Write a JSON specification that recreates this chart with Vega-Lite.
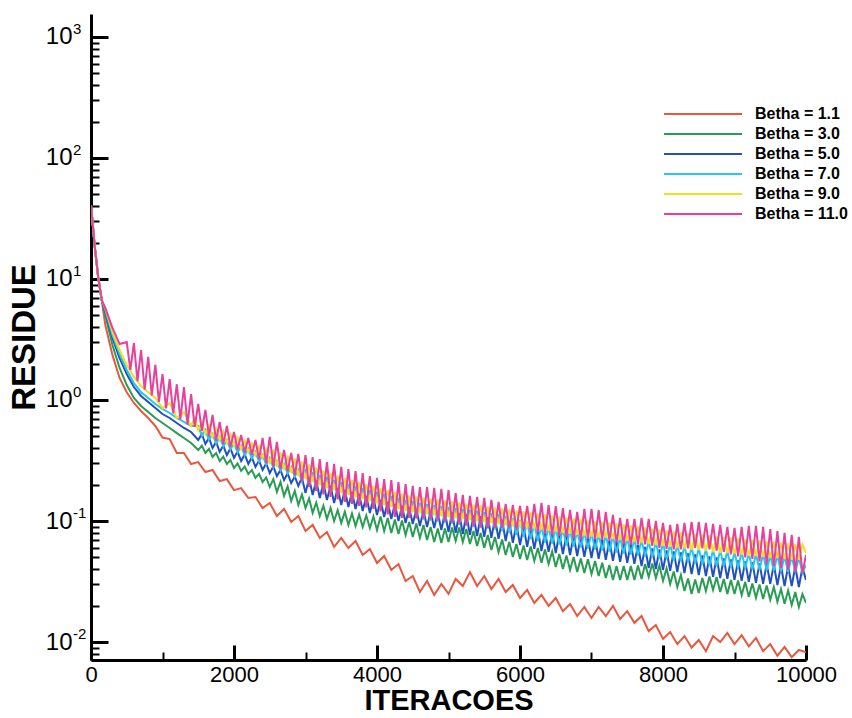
{
"$schema": "https://vega.github.io/schema/vega-lite/v6.json",
"width": 715, "height": 646,
"autosize": "none",
"padding": {"left": 91, "top": 14, "right": 46, "bottom": 58},
"background": "white",
"config": {"view": {"stroke": null}, "font": "Liberation Sans"},
"layer": [
{
"data": {"values": [
{"betha":"1.1","iter":0,"res":40.9},{"betha":"1.1","iter":25,"res":28},{"betha":"1.1","iter":50,"res":19.1},{"betha":"1.1","iter":100,"res":10.4},{"betha":"1.1","iter":150,"res":6.7},{"betha":"1.1","iter":200,"res":4.17},{"betha":"1.1","iter":300,"res":2.36},{"betha":"1.1","iter":400,"res":1.52},{"betha":"1.1","iter":500,"res":1.16},{"betha":"1.1","iter":600,"res":0.945},{"betha":"1.1","iter":700,"res":0.812},{"betha":"1.1","iter":800,"res":0.71},{"betha":"1.1","iter":900,"res":0.61},{"betha":"1.1","iter":1000,"res":0.49},{"betha":"1.1","iter":1100,"res":0.476},{"betha":"1.1","iter":1200,"res":0.365},{"betha":"1.1","iter":1300,"res":0.365},{"betha":"1.1","iter":1400,"res":0.296},{"betha":"1.1","iter":1500,"res":0.307},{"betha":"1.1","iter":1600,"res":0.254},{"betha":"1.1","iter":1700,"res":0.264},{"betha":"1.1","iter":1800,"res":0.214},{"betha":"1.1","iter":1900,"res":0.222},{"betha":"1.1","iter":2000,"res":0.18},{"betha":"1.1","iter":2100,"res":0.187},{"betha":"1.1","iter":2200,"res":0.155},{"betha":"1.1","iter":2300,"res":0.158},{"betha":"1.1","iter":2400,"res":0.128},{"betha":"1.1","iter":2500,"res":0.141},{"betha":"1.1","iter":2600,"res":0.11},{"betha":"1.1","iter":2700,"res":0.126},{"betha":"1.1","iter":2800,"res":0.098},{"betha":"1.1","iter":2900,"res":0.11},{"betha":"1.1","iter":3000,"res":0.0827},{"betha":"1.1","iter":3100,"res":0.0928},{"betha":"1.1","iter":3200,"res":0.0724},{"betha":"1.1","iter":3300,"res":0.0811},{"betha":"1.1","iter":3400,"res":0.061},{"betha":"1.1","iter":3500,"res":0.0724},{"betha":"1.1","iter":3600,"res":0.0598},{"betha":"1.1","iter":3700,"res":0.0684},{"betha":"1.1","iter":3800,"res":0.0524},{"betha":"1.1","iter":3900,"res":0.0587},{"betha":"1.1","iter":4000,"res":0.045},{"betha":"1.1","iter":4100,"res":0.0514},{"betha":"1.1","iter":4200,"res":0.0394},{"betha":"1.1","iter":4300,"res":0.0441},{"betha":"1.1","iter":4400,"res":0.0319},{"betha":"1.1","iter":4500,"res":0.0351},{"betha":"1.1","iter":4600,"res":0.0259},{"betha":"1.1","iter":4700,"res":0.0319},{"betha":"1.1","iter":4800,"res":0.0245},{"betha":"1.1","iter":4900,"res":0.0302},{"betha":"1.1","iter":5000,"res":0.025},{"betha":"1.1","iter":5100,"res":0.0332},{"betha":"1.1","iter":5200,"res":0.029},{"betha":"1.1","iter":5300,"res":0.0378},{"betha":"1.1","iter":5400,"res":0.029},{"betha":"1.1","iter":5500,"res":0.0351},{"betha":"1.1","iter":5600,"res":0.0274},{"betha":"1.1","iter":5700,"res":0.0332},{"betha":"1.1","iter":5800,"res":0.0259},{"betha":"1.1","iter":5900,"res":0.0296},{"betha":"1.1","iter":6000,"res":0.0231},{"betha":"1.1","iter":6100,"res":0.0269},{"betha":"1.1","iter":6200,"res":0.021},{"betha":"1.1","iter":6300,"res":0.0245},{"betha":"1.1","iter":6400,"res":0.0199},{"betha":"1.1","iter":6500,"res":0.0231},{"betha":"1.1","iter":6600,"res":0.018},{"betha":"1.1","iter":6700,"res":0.0206},{"betha":"1.1","iter":6800,"res":0.0164},{"betha":"1.1","iter":6900,"res":0.0195},{"betha":"1.1","iter":7000,"res":0.0158},{"betha":"1.1","iter":7100,"res":0.0195},{"betha":"1.1","iter":7200,"res":0.0164},{"betha":"1.1","iter":7300,"res":0.0199},{"betha":"1.1","iter":7400,"res":0.0155},{"betha":"1.1","iter":7500,"res":0.018},{"betha":"1.1","iter":7600,"res":0.0144},{"betha":"1.1","iter":7700,"res":0.0164},{"betha":"1.1","iter":7800,"res":0.0123},{"betha":"1.1","iter":7900,"res":0.0138},{"betha":"1.1","iter":8000,"res":0.0106},{"betha":"1.1","iter":8100,"res":0.0121},{"betha":"1.1","iter":8200,"res":0.0096},{"betha":"1.1","iter":8300,"res":0.0112},{"betha":"1.1","iter":8400,"res":0.009},{"betha":"1.1","iter":8500,"res":0.0104},{"betha":"1.1","iter":8600,"res":0.0084},{"betha":"1.1","iter":8700,"res":0.0112},{"betha":"1.1","iter":8800,"res":0.01},{"betha":"1.1","iter":8900,"res":0.0119},{"betha":"1.1","iter":9000,"res":0.0096},{"betha":"1.1","iter":9100,"res":0.0114},{"betha":"1.1","iter":9200,"res":0.0092},{"betha":"1.1","iter":9300,"res":0.0108},{"betha":"1.1","iter":9400,"res":0.0084},{"betha":"1.1","iter":9500,"res":0.0096},{"betha":"1.1","iter":9600,"res":0.0077},{"betha":"1.1","iter":9700,"res":0.0091},{"betha":"1.1","iter":9800,"res":0.0075},{"betha":"1.1","iter":9900,"res":0.0086},{"betha":"1.1","iter":10000,"res":0.0082},
{"betha":"3.0","iter":0,"res":40.9},{"betha":"3.0","iter":25,"res":28},{"betha":"3.0","iter":50,"res":19.1},{"betha":"3.0","iter":100,"res":10.4},{"betha":"3.0","iter":150,"res":6.7},{"betha":"3.0","iter":200,"res":5.04},{"betha":"3.0","iter":300,"res":2.85},{"betha":"3.0","iter":400,"res":1.84},{"betha":"3.0","iter":500,"res":1.33},{"betha":"3.0","iter":600,"res":1.04},{"betha":"3.0","iter":700,"res":0.892},{"betha":"3.0","iter":800,"res":0.796},{"betha":"3.0","iter":900,"res":0.71},{"betha":"3.0","iter":1000,"res":0.645},{"betha":"3.0","iter":1100,"res":0.587},{"betha":"3.0","iter":1200,"res":0.533},{"betha":"3.0","iter":1300,"res":0.485},{"betha":"3.0","iter":1400,"res":0.441},
{"betha":"3.0","iter":1500,"res":0.386},{"betha":"3.0","iter":1550,"res":0.42},{"betha":"3.0","iter":1600,"res":0.365},{"betha":"3.0","iter":1650,"res":0.394},{"betha":"3.0","iter":1700,"res":0.338},{"betha":"3.0","iter":1750,"res":0.365},{"betha":"3.0","iter":1800,"res":0.313},{"betha":"3.0","iter":1850,"res":0.341},{"betha":"3.0","iter":1900,"res":0.296},{"betha":"3.0","iter":1950,"res":0.319},{"betha":"3.0","iter":2000,"res":0.274},{"betha":"3.0","iter":2050,"res":0.299},{"betha":"3.0","iter":2100,"res":0.259},{"betha":"3.0","iter":2150,"res":0.282},{"betha":"3.0","iter":2200,"res":0.245},{"betha":"3.0","iter":2250,"res":0.264},{"betha":"3.0","iter":2300,"res":0.227},{"betha":"3.0","iter":2350,"res":0.245},{"betha":"3.0","iter":2400,"res":0.21},{"betha":"3.0","iter":2450,"res":0.229},{"betha":"3.0","iter":2500,"res":0.191},{"betha":"3.0","iter":2550,"res":0.222},{"betha":"3.0","iter":2600,"res":0.174},{"betha":"3.0","iter":2650,"res":0.21},{"betha":"3.0","iter":2700,"res":0.161},{"betha":"3.0","iter":2750,"res":0.193},{"betha":"3.0","iter":2800,"res":0.146},{"betha":"3.0","iter":2850,"res":0.177},{"betha":"3.0","iter":2900,"res":0.1356},{"betha":"3.0","iter":2950,"res":0.166},{"betha":"3.0","iter":3000,"res":0.128},{"betha":"3.0","iter":3050,"res":0.154},{"betha":"3.0","iter":3100,"res":0.1165},{"betha":"3.0","iter":3150,"res":0.142},{"betha":"3.0","iter":3200,"res":0.11},{"betha":"3.0","iter":3250,"res":0.134},{"betha":"3.0","iter":3300,"res":0.104},{"betha":"3.0","iter":3350,"res":0.128},{"betha":"3.0","iter":3400,"res":0.1},{"betha":"3.0","iter":3450,"res":0.123},{"betha":"3.0","iter":3500,"res":0.0964},{"betha":"3.0","iter":3550,"res":0.119},{"betha":"3.0","iter":3600,"res":0.0927},{"betha":"3.0","iter":3650,"res":0.1154},{"betha":"3.0","iter":3700,"res":0.091},{"betha":"3.0","iter":3750,"res":0.113},{"betha":"3.0","iter":3800,"res":0.0893},{"betha":"3.0","iter":3850,"res":0.111},{"betha":"3.0","iter":3900,"res":0.0876},{"betha":"3.0","iter":3950,"res":0.109},{"betha":"3.0","iter":4000,"res":0.0843},{"betha":"3.0","iter":4050,"res":0.109},{"betha":"3.0","iter":4100,"res":0.0827},{"betha":"3.0","iter":4150,"res":0.106},{"betha":"3.0","iter":4200,"res":0.0797},{"betha":"3.0","iter":4250,"res":0.103},{"betha":"3.0","iter":4300,"res":0.0781},{"betha":"3.0","iter":4350,"res":0.101},{"betha":"3.0","iter":4400,"res":0.0767},{"betha":"3.0","iter":4450,"res":0.0982},{"betha":"3.0","iter":4500,"res":0.0739},{"betha":"3.0","iter":4550,"res":0.0955},{"betha":"3.0","iter":4600,"res":0.0725},{"betha":"3.0","iter":4650,"res":0.0927},{"betha":"3.0","iter":4700,"res":0.0697},{"betha":"3.0","iter":4750,"res":0.0893},{"betha":"3.0","iter":4800,"res":0.0671},{"betha":"3.0","iter":4850,"res":0.0868},{"betha":"3.0","iter":4900,"res":0.0659},{"betha":"3.0","iter":4950,"res":0.0868},{"betha":"3.0","iter":5000,"res":0.0671},{"betha":"3.0","iter":5050,"res":0.0884},{"betha":"3.0","iter":5100,"res":0.0684},{"betha":"3.0","iter":5150,"res":0.0884},{"betha":"3.0","iter":5200,"res":0.0671},{"betha":"3.0","iter":5250,"res":0.0859},{"betha":"3.0","iter":5300,"res":0.0646},{"betha":"3.0","iter":5350,"res":0.0827},{"betha":"3.0","iter":5400,"res":0.0622},{"betha":"3.0","iter":5450,"res":0.0797},{"betha":"3.0","iter":5500,"res":0.0599},{"betha":"3.0","iter":5550,"res":0.0767},{"betha":"3.0","iter":5600,"res":0.0576},{"betha":"3.0","iter":5650,"res":0.0739},{"betha":"3.0","iter":5700,"res":0.0555},{"betha":"3.0","iter":5750,"res":0.0704},{"betha":"3.0","iter":5800,"res":0.0524},{"betha":"3.0","iter":5850,"res":0.0671},{"betha":"3.0","iter":5900,"res":0.0505},{"betha":"3.0","iter":5950,"res":0.0646},{"betha":"3.0","iter":6000,"res":0.0486},{"betha":"3.0","iter":6050,"res":0.0628},{"betha":"3.0","iter":6100,"res":0.0477},{"betha":"3.0","iter":6150,"res":0.0616},{"betha":"3.0","iter":6200,"res":0.0468},{"betha":"3.0","iter":6250,"res":0.0599},{"betha":"3.0","iter":6300,"res":0.0451},{"betha":"3.0","iter":6350,"res":0.0582},{"betha":"3.0","iter":6400,"res":0.0442},{"betha":"3.0","iter":6450,"res":0.056},{"betha":"3.0","iter":6500,"res":0.0417},{"betha":"3.0","iter":6550,"res":0.0534},{"betha":"3.0","iter":6600,"res":0.0401},{"betha":"3.0","iter":6650,"res":0.0519},{"betha":"3.0","iter":6700,"res":0.0394},{"betha":"3.0","iter":6750,"res":0.0505},{"betha":"3.0","iter":6800,"res":0.0379},{"betha":"3.0","iter":6850,"res":0.049},{"betha":"3.0","iter":6900,"res":0.0372},{"betha":"3.0","iter":6950,"res":0.0482},{"betha":"3.0","iter":7000,"res":0.0365},{"betha":"3.0","iter":7050,"res":0.0468},{"betha":"3.0","iter":7100,"res":0.0351},{"betha":"3.0","iter":7150,"res":0.0451},{"betha":"3.0","iter":7200,"res":0.0338},{"betha":"3.0","iter":7250,"res":0.0433},{"betha":"3.0","iter":7300,"res":0.0326},{"betha":"3.0","iter":7350,"res":0.0425},{"betha":"3.0","iter":7400,"res":0.0326},{"betha":"3.0","iter":7450,"res":0.0425},{"betha":"3.0","iter":7500,"res":0.0326},{"betha":"3.0","iter":7550,"res":0.0425},{"betha":"3.0","iter":7600,"res":0.0326},{"betha":"3.0","iter":7650,"res":0.0429},{"betha":"3.0","iter":7700,"res":0.0332},{"betha":"3.0","iter":7750,"res":0.0442},{"betha":"3.0","iter":7800,"res":0.0345},{"betha":"3.0","iter":7850,"res":0.0446},{"betha":"3.0","iter":7900,"res":0.0338},{"betha":"3.0","iter":7950,"res":0.0429},{"betha":"3.0","iter":8000,"res":0.032},{"betha":"3.0","iter":8050,"res":0.0405},{"betha":"3.0","iter":8100,"res":0.0302},{"betha":"3.0","iter":8150,"res":0.0383},{"betha":"3.0","iter":8200,"res":0.0285},{"betha":"3.0","iter":8250,"res":0.0358},{"betha":"3.0","iter":8300,"res":0.0264},{"betha":"3.0","iter":8350,"res":0.0335},{"betha":"3.0","iter":8400,"res":0.0249},{"betha":"3.0","iter":8450,"res":0.0329},{"betha":"3.0","iter":8500,"res":0.0254},{"betha":"3.0","iter":8550,"res":0.0338},{"betha":"3.0","iter":8600,"res":0.0264},{"betha":"3.0","iter":8650,"res":0.0348},{"betha":"3.0","iter":8700,"res":0.0269},{"betha":"3.0","iter":8750,"res":0.0345},{"betha":"3.0","iter":8800,"res":0.0259},{"betha":"3.0","iter":8850,"res":0.0332},{"betha":"3.0","iter":8900,"res":0.0249},{"betha":"3.0","iter":8950,"res":0.0326},{"betha":"3.0","iter":9000,"res":0.0249},{"betha":"3.0","iter":9050,"res":0.0323},{"betha":"3.0","iter":9100,"res":0.0245},{"betha":"3.0","iter":9150,"res":0.0314},{"betha":"3.0","iter":9200,"res":0.0236},{"betha":"3.0","iter":9250,"res":0.0305},{"betha":"3.0","iter":9300,"res":0.0232},{"betha":"3.0","iter":9350,"res":0.0299},{"betha":"3.0","iter":9400,"res":0.0227},{"betha":"3.0","iter":9450,"res":0.0293},{"betha":"3.0","iter":9500,"res":0.0223},{"betha":"3.0","iter":9550,"res":0.0285},{"betha":"3.0","iter":9600,"res":0.0215},{"betha":"3.0","iter":9650,"res":0.0274},{"betha":"3.0","iter":9700,"res":0.0207},{"betha":"3.0","iter":9750,"res":0.0266},{"betha":"3.0","iter":9800,"res":0.0202},{"betha":"3.0","iter":9850,"res":0.0259},{"betha":"3.0","iter":9900,"res":0.0195},{"betha":"3.0","iter":9950,"res":0.0249},{"betha":"3.0","iter":10000,"res":0.0211},
{"betha":"5.0","iter":0,"res":40.9},{"betha":"5.0","iter":25,"res":28},{"betha":"5.0","iter":50,"res":19.1},{"betha":"5.0","iter":100,"res":10.4},{"betha":"5.0","iter":150,"res":6.7},{"betha":"5.0","iter":200,"res":5.33},{"betha":"5.0","iter":300,"res":3.26},{"betha":"5.0","iter":400,"res":2.22},{"betha":"5.0","iter":500,"res":1.64},{"betha":"5.0","iter":600,"res":1.28},{"betha":"5.0","iter":700,"res":1.08},{"betha":"5.0","iter":800,"res":0.963},{"betha":"5.0","iter":900,"res":0.859},{"betha":"5.0","iter":1000,"res":0.766},{"betha":"5.0","iter":1100,"res":0.71},{"betha":"5.0","iter":1200,"res":0.645},{"betha":"5.0","iter":1300,"res":0.587},{"betha":"5.0","iter":1400,"res":0.544},
{"betha":"5.0","iter":1500,"res":0.467},{"betha":"5.0","iter":1550,"res":0.524},{"betha":"5.0","iter":1600,"res":0.433},{"betha":"5.0","iter":1650,"res":0.486},{"betha":"5.0","iter":1700,"res":0.401},{"betha":"5.0","iter":1750,"res":0.45},{"betha":"5.0","iter":1800,"res":0.372},{"betha":"5.0","iter":1850,"res":0.42},{"betha":"5.0","iter":1900,"res":0.351},{"betha":"5.0","iter":1950,"res":0.398},{"betha":"5.0","iter":2000,"res":0.332},{"betha":"5.0","iter":2050,"res":0.375},{"betha":"5.0","iter":2100,"res":0.313},{"betha":"5.0","iter":2150,"res":0.355},{"betha":"5.0","iter":2200,"res":0.296},{"betha":"5.0","iter":2250,"res":0.335},{"betha":"5.0","iter":2300,"res":0.28},{"betha":"5.0","iter":2350,"res":0.316},{"betha":"5.0","iter":2400,"res":0.264},{"betha":"5.0","iter":2450,"res":0.299},{"betha":"5.0","iter":2500,"res":0.249},{"betha":"5.0","iter":2550,"res":0.282},{"betha":"5.0","iter":2600,"res":0.235},{"betha":"5.0","iter":2650,"res":0.264},{"betha":"5.0","iter":2700,"res":0.218},{"betha":"5.0","iter":2750,"res":0.247},{"betha":"5.0","iter":2800,"res":0.206},{"betha":"5.0","iter":2850,"res":0.233},{"betha":"5.0","iter":2900,"res":0.195},{"betha":"5.0","iter":2950,"res":0.229},{"betha":"5.0","iter":3000,"res":0.17},{"betha":"5.0","iter":3050,"res":0.227},{"betha":"5.0","iter":3100,"res":0.164},{"betha":"5.0","iter":3150,"res":0.216},{"betha":"5.0","iter":3200,"res":0.155},{"betha":"5.0","iter":3250,"res":0.206},{"betha":"5.0","iter":3300,"res":0.149},{"betha":"5.0","iter":3350,"res":0.196},{"betha":"5.0","iter":3400,"res":0.141},{"betha":"5.0","iter":3450,"res":0.1875},{"betha":"5.0","iter":3500,"res":0.1356},{"betha":"5.0","iter":3550,"res":0.1804},{"betha":"5.0","iter":3600,"res":0.1306},{"betha":"5.0","iter":3650,"res":0.1737},{"betha":"5.0","iter":3700,"res":0.1257},{"betha":"5.0","iter":3750,"res":0.1672},{"betha":"5.0","iter":3800,"res":0.121},{"betha":"5.0","iter":3850,"res":0.161},{"betha":"5.0","iter":3900,"res":0.1165},{"betha":"5.0","iter":3950,"res":0.155},{"betha":"5.0","iter":4000,"res":0.1121},{"betha":"5.0","iter":4050,"res":0.1492},{"betha":"5.0","iter":4100,"res":0.108},{"betha":"5.0","iter":4150,"res":0.1437},{"betha":"5.0","iter":4200,"res":0.1039},{"betha":"5.0","iter":4250,"res":0.1383},{"betha":"5.0","iter":4300,"res":0.1},{"betha":"5.0","iter":4350,"res":0.133},{"betha":"5.0","iter":4400,"res":0.0964},{"betha":"5.0","iter":4450,"res":0.1294},{"betha":"5.0","iter":4500,"res":0.0946},{"betha":"5.0","iter":4550,"res":0.1257},{"betha":"5.0","iter":4600,"res":0.091},{"betha":"5.0","iter":4650,"res":0.122},{"betha":"5.0","iter":4700,"res":0.0893},{"betha":"5.0","iter":4750,"res":0.12},{"betha":"5.0","iter":4800,"res":0.0876},{"betha":"5.0","iter":4850,"res":0.1176},{"betha":"5.0","iter":4900,"res":0.0843},{"betha":"5.0","iter":4950,"res":0.1176},{"betha":"5.0","iter":5000,"res":0.0812},{"betha":"5.0","iter":5050,"res":0.1176},{"betha":"5.0","iter":5100,"res":0.0797},{"betha":"5.0","iter":5150,"res":0.1154},{"betha":"5.0","iter":5200,"res":0.0781},{"betha":"5.0","iter":5250,"res":0.1132},{"betha":"5.0","iter":5300,"res":0.0767},{"betha":"5.0","iter":5350,"res":0.111},{"betha":"5.0","iter":5400,"res":0.0752},{"betha":"5.0","iter":5450,"res":0.109},{"betha":"5.0","iter":5500,"res":0.0739},{"betha":"5.0","iter":5550,"res":0.107},{"betha":"5.0","iter":5600,"res":0.0725},{"betha":"5.0","iter":5650,"res":0.105},{"betha":"5.0","iter":5700,"res":0.0711},{"betha":"5.0","iter":5750,"res":0.102},{"betha":"5.0","iter":5800,"res":0.0684},{"betha":"5.0","iter":5850,"res":0.0982},{"betha":"5.0","iter":5900,"res":0.0659},{"betha":"5.0","iter":5950,"res":0.0946},{"betha":"5.0","iter":6000,"res":0.0634},{"betha":"5.0","iter":6050,"res":0.091},{"betha":"5.0","iter":6100,"res":0.0611},{"betha":"5.0","iter":6150,"res":0.0876},{"betha":"5.0","iter":6200,"res":0.0588},{"betha":"5.0","iter":6250,"res":0.0843},{"betha":"5.0","iter":6300,"res":0.0565},{"betha":"5.0","iter":6350,"res":0.0819},{"betha":"5.0","iter":6400,"res":0.0555},{"betha":"5.0","iter":6450,"res":0.0804},{"betha":"5.0","iter":6500,"res":0.0544},{"betha":"5.0","iter":6550,"res":0.0789},{"betha":"5.0","iter":6600,"res":0.0534},{"betha":"5.0","iter":6650,"res":0.0775},{"betha":"5.0","iter":6700,"res":0.0524},{"betha":"5.0","iter":6750,"res":0.0759},{"betha":"5.0","iter":6800,"res":0.0514},{"betha":"5.0","iter":6850,"res":0.0746},{"betha":"5.0","iter":6900,"res":0.0505},{"betha":"5.0","iter":6950,"res":0.0732},{"betha":"5.0","iter":7000,"res":0.0495},{"betha":"5.0","iter":7050,"res":0.0718},{"betha":"5.0","iter":7100,"res":0.0486},{"betha":"5.0","iter":7150,"res":0.0704},{"betha":"5.0","iter":7200,"res":0.0477},{"betha":"5.0","iter":7250,"res":0.069},{"betha":"5.0","iter":7300,"res":0.0468},{"betha":"5.0","iter":7350,"res":0.0677},{"betha":"5.0","iter":7400,"res":0.0459},{"betha":"5.0","iter":7450,"res":0.0665},{"betha":"5.0","iter":7500,"res":0.0451},{"betha":"5.0","iter":7550,"res":0.0652},{"betha":"5.0","iter":7600,"res":0.0442},{"betha":"5.0","iter":7650,"res":0.0634},{"betha":"5.0","iter":7700,"res":0.0425},{"betha":"5.0","iter":7750,"res":0.0611},{"betha":"5.0","iter":7800,"res":0.0409},{"betha":"5.0","iter":7850,"res":0.0593},{"betha":"5.0","iter":7900,"res":0.0401},{"betha":"5.0","iter":7950,"res":0.0582},{"betha":"5.0","iter":8000,"res":0.0394},{"betha":"5.0","iter":8050,"res":0.057},{"betha":"5.0","iter":8100,"res":0.0387},{"betha":"5.0","iter":8150,"res":0.056},{"betha":"5.0","iter":8200,"res":0.0379},{"betha":"5.0","iter":8250,"res":0.055},{"betha":"5.0","iter":8300,"res":0.0372},{"betha":"5.0","iter":8350,"res":0.0539},{"betha":"5.0","iter":8400,"res":0.0365},{"betha":"5.0","iter":8450,"res":0.0529},{"betha":"5.0","iter":8500,"res":0.0358},{"betha":"5.0","iter":8550,"res":0.0519},{"betha":"5.0","iter":8600,"res":0.0351},{"betha":"5.0","iter":8650,"res":0.0509},{"betha":"5.0","iter":8700,"res":0.0345},{"betha":"5.0","iter":8750,"res":0.05},{"betha":"5.0","iter":8800,"res":0.0338},{"betha":"5.0","iter":8850,"res":0.049},{"betha":"5.0","iter":8900,"res":0.0332},{"betha":"5.0","iter":8950,"res":0.0482},{"betha":"5.0","iter":9000,"res":0.0326},{"betha":"5.0","iter":9050,"res":0.0472},{"betha":"5.0","iter":9100,"res":0.032},{"betha":"5.0","iter":9150,"res":0.0464},{"betha":"5.0","iter":9200,"res":0.0314},{"betha":"5.0","iter":9250,"res":0.0455},{"betha":"5.0","iter":9300,"res":0.0308},{"betha":"5.0","iter":9350,"res":0.0446},{"betha":"5.0","iter":9400,"res":0.0302},{"betha":"5.0","iter":9450,"res":0.0442},{"betha":"5.0","iter":9500,"res":0.0302},{"betha":"5.0","iter":9550,"res":0.0437},{"betha":"5.0","iter":9600,"res":0.0296},{"betha":"5.0","iter":9650,"res":0.0429},{"betha":"5.0","iter":9700,"res":0.029},{"betha":"5.0","iter":9750,"res":0.0425},{"betha":"5.0","iter":9800,"res":0.029},{"betha":"5.0","iter":9850,"res":0.0421},{"betha":"5.0","iter":9900,"res":0.0285},{"betha":"5.0","iter":9950,"res":0.0413},{"betha":"5.0","iter":10000,"res":0.0326},
{"betha":"7.0","iter":0,"res":40.9},{"betha":"7.0","iter":25,"res":28},{"betha":"7.0","iter":50,"res":19.1},{"betha":"7.0","iter":100,"res":10.4},{"betha":"7.0","iter":150,"res":6.7},{"betha":"7.0","iter":200,"res":5.54},{"betha":"7.0","iter":300,"res":3.45},{"betha":"7.0","iter":400,"res":2.4},{"betha":"7.0","iter":500,"res":1.77},{"betha":"7.0","iter":600,"res":1.38},{"betha":"7.0","iter":700,"res":1.16},{"betha":"7.0","iter":800,"res":1.04},{"betha":"7.0","iter":900,"res":0.927},{"betha":"7.0","iter":1000,"res":0.843},{"betha":"7.0","iter":1100,"res":0.781},{"betha":"7.0","iter":1200,"res":0.71},{"betha":"7.0","iter":1300,"res":0.658},{"betha":"7.0","iter":1400,"res":0.61},
{"betha":"7.0","iter":1500,"res":0.61},{"betha":"7.0","iter":1550,"res":0.504},{"betha":"7.0","iter":1600,"res":0.565},{"betha":"7.0","iter":1650,"res":0.467},{"betha":"7.0","iter":1700,"res":0.524},{"betha":"7.0","iter":1750,"res":0.437},{"betha":"7.0","iter":1800,"res":0.495},{"betha":"7.0","iter":1850,"res":0.413},{"betha":"7.0","iter":1900,"res":0.467},{"betha":"7.0","iter":1950,"res":0.39},{"betha":"7.0","iter":2000,"res":0.441},{"betha":"7.0","iter":2050,"res":0.368},{"betha":"7.0","iter":2100,"res":0.417},{"betha":"7.0","iter":2150,"res":0.348},{"betha":"7.0","iter":2200,"res":0.394},{"betha":"7.0","iter":2250,"res":0.329},{"betha":"7.0","iter":2300,"res":0.372},{"betha":"7.0","iter":2350,"res":0.31},{"betha":"7.0","iter":2400,"res":0.351},{"betha":"7.0","iter":2450,"res":0.293},{"betha":"7.0","iter":2500,"res":0.332},{"betha":"7.0","iter":2550,"res":0.277},{"betha":"7.0","iter":2600,"res":0.313},{"betha":"7.0","iter":2650,"res":0.261},{"betha":"7.0","iter":2700,"res":0.296},{"betha":"7.0","iter":2750,"res":0.247},{"betha":"7.0","iter":2800,"res":0.28},{"betha":"7.0","iter":2850,"res":0.233},{"betha":"7.0","iter":2900,"res":0.264},{"betha":"7.0","iter":2950,"res":0.212},{"betha":"7.0","iter":3000,"res":0.269},{"betha":"7.0","iter":3050,"res":0.193},{"betha":"7.0","iter":3100,"res":0.254},{"betha":"7.0","iter":3150,"res":0.182},{"betha":"7.0","iter":3200,"res":0.24},{"betha":"7.0","iter":3250,"res":0.1737},{"betha":"7.0","iter":3300,"res":0.2312},{"betha":"7.0","iter":3350,"res":0.166},{"betha":"7.0","iter":3400,"res":0.218},{"betha":"7.0","iter":3450,"res":0.158},{"betha":"7.0","iter":3500,"res":0.21},{"betha":"7.0","iter":3550,"res":0.152},{"betha":"7.0","iter":3600,"res":0.202},{"betha":"7.0","iter":3650,"res":0.1464},{"betha":"7.0","iter":3700,"res":0.195},{"betha":"7.0","iter":3750,"res":0.141},{"betha":"7.0","iter":3800,"res":0.1875},{"betha":"7.0","iter":3850,"res":0.1356},{"betha":"7.0","iter":3900,"res":0.1804},{"betha":"7.0","iter":3950,"res":0.1306},{"betha":"7.0","iter":4000,"res":0.1737},{"betha":"7.0","iter":4050,"res":0.1257},{"betha":"7.0","iter":4100,"res":0.1672},{"betha":"7.0","iter":4150,"res":0.121},{"betha":"7.0","iter":4200,"res":0.161},{"betha":"7.0","iter":4250,"res":0.1165},{"betha":"7.0","iter":4300,"res":0.155},{"betha":"7.0","iter":4350,"res":0.1121},{"betha":"7.0","iter":4400,"res":0.1492},{"betha":"7.0","iter":4450,"res":0.109},{"betha":"7.0","iter":4500,"res":0.1464},{"betha":"7.0","iter":4550,"res":0.106},{"betha":"7.0","iter":4600,"res":0.141},{"betha":"7.0","iter":4650,"res":0.103},{"betha":"7.0","iter":4700,"res":0.1383},{"betha":"7.0","iter":4750,"res":0.101},{"betha":"7.0","iter":4800,"res":0.1356},{"betha":"7.0","iter":4850,"res":0.0991},{"betha":"7.0","iter":4900,"res":0.133},{"betha":"7.0","iter":4950,"res":0.0973},{"betha":"7.0","iter":5000,"res":0.1306},{"betha":"7.0","iter":5050,"res":0.0955},{"betha":"7.0","iter":5100,"res":0.128},{"betha":"7.0","iter":5150,"res":0.0937},{"betha":"7.0","iter":5200,"res":0.1257},{"betha":"7.0","iter":5250,"res":0.0918},{"betha":"7.0","iter":5300,"res":0.1233},{"betha":"7.0","iter":5350,"res":0.0901},{"betha":"7.0","iter":5400,"res":0.121},{"betha":"7.0","iter":5450,"res":0.0884},{"betha":"7.0","iter":5500,"res":0.1187},{"betha":"7.0","iter":5550,"res":0.0868},{"betha":"7.0","iter":5600,"res":0.1165},{"betha":"7.0","iter":5650,"res":0.0851},{"betha":"7.0","iter":5700,"res":0.1143},{"betha":"7.0","iter":5750,"res":0.0827},{"betha":"7.0","iter":5800,"res":0.11},{"betha":"7.0","iter":5850,"res":0.0797},{"betha":"7.0","iter":5900,"res":0.106},{"betha":"7.0","iter":5950,"res":0.0767},{"betha":"7.0","iter":6000,"res":0.102},{"betha":"7.0","iter":6050,"res":0.0739},{"betha":"7.0","iter":6100,"res":0.0982},{"betha":"7.0","iter":6150,"res":0.0711},{"betha":"7.0","iter":6200,"res":0.0946},{"betha":"7.0","iter":6250,"res":0.0684},{"betha":"7.0","iter":6300,"res":0.091},{"betha":"7.0","iter":6350,"res":0.0665},{"betha":"7.0","iter":6400,"res":0.0893},{"betha":"7.0","iter":6450,"res":0.0652},{"betha":"7.0","iter":6500,"res":0.0876},{"betha":"7.0","iter":6550,"res":0.064},{"betha":"7.0","iter":6600,"res":0.0859},{"betha":"7.0","iter":6650,"res":0.0628},{"betha":"7.0","iter":6700,"res":0.0843},{"betha":"7.0","iter":6750,"res":0.0616},{"betha":"7.0","iter":6800,"res":0.0827},{"betha":"7.0","iter":6850,"res":0.0605},{"betha":"7.0","iter":6900,"res":0.0812},{"betha":"7.0","iter":6950,"res":0.0593},{"betha":"7.0","iter":7000,"res":0.0797},{"betha":"7.0","iter":7050,"res":0.0582},{"betha":"7.0","iter":7100,"res":0.0781},{"betha":"7.0","iter":7150,"res":0.057},{"betha":"7.0","iter":7200,"res":0.0767},{"betha":"7.0","iter":7250,"res":0.056},{"betha":"7.0","iter":7300,"res":0.0752},{"betha":"7.0","iter":7350,"res":0.055},{"betha":"7.0","iter":7400,"res":0.0739},{"betha":"7.0","iter":7450,"res":0.0539},{"betha":"7.0","iter":7500,"res":0.0725},{"betha":"7.0","iter":7550,"res":0.0529},{"betha":"7.0","iter":7600,"res":0.0711},{"betha":"7.0","iter":7650,"res":0.0519},{"betha":"7.0","iter":7700,"res":0.0697},{"betha":"7.0","iter":7750,"res":0.0509},{"betha":"7.0","iter":7800,"res":0.0684},{"betha":"7.0","iter":7850,"res":0.05},{"betha":"7.0","iter":7900,"res":0.0671},{"betha":"7.0","iter":7950,"res":0.049},{"betha":"7.0","iter":8000,"res":0.0659},{"betha":"7.0","iter":8050,"res":0.0482},{"betha":"7.0","iter":8100,"res":0.0646},{"betha":"7.0","iter":8150,"res":0.0472},{"betha":"7.0","iter":8200,"res":0.0634},{"betha":"7.0","iter":8250,"res":0.0464},{"betha":"7.0","iter":8300,"res":0.0622},{"betha":"7.0","iter":8350,"res":0.0455},{"betha":"7.0","iter":8400,"res":0.0611},{"betha":"7.0","iter":8450,"res":0.0446},{"betha":"7.0","iter":8500,"res":0.0599},{"betha":"7.0","iter":8550,"res":0.0437},{"betha":"7.0","iter":8600,"res":0.0588},{"betha":"7.0","iter":8650,"res":0.0429},{"betha":"7.0","iter":8700,"res":0.0576},{"betha":"7.0","iter":8750,"res":0.0425},{"betha":"7.0","iter":8800,"res":0.0576},{"betha":"7.0","iter":8850,"res":0.0421},{"betha":"7.0","iter":8900,"res":0.0565},{"betha":"7.0","iter":8950,"res":0.0413},{"betha":"7.0","iter":9000,"res":0.0555},{"betha":"7.0","iter":9050,"res":0.0409},{"betha":"7.0","iter":9100,"res":0.0555},{"betha":"7.0","iter":9150,"res":0.0405},{"betha":"7.0","iter":9200,"res":0.0544},{"betha":"7.0","iter":9250,"res":0.0398},{"betha":"7.0","iter":9300,"res":0.0534},{"betha":"7.0","iter":9350,"res":0.0394},{"betha":"7.0","iter":9400,"res":0.0534},{"betha":"7.0","iter":9450,"res":0.039},{"betha":"7.0","iter":9500,"res":0.0524},{"betha":"7.0","iter":9550,"res":0.0387},{"betha":"7.0","iter":9600,"res":0.0524},{"betha":"7.0","iter":9650,"res":0.0383},{"betha":"7.0","iter":9700,"res":0.0514},{"betha":"7.0","iter":9750,"res":0.0379},{"betha":"7.0","iter":9800,"res":0.0514},{"betha":"7.0","iter":9850,"res":0.0376},{"betha":"7.0","iter":9900,"res":0.0505},{"betha":"7.0","iter":9950,"res":0.0372},{"betha":"7.0","iter":10000,"res":0.0433},
{"betha":"9.0","iter":0,"res":40.9},{"betha":"9.0","iter":25,"res":28},{"betha":"9.0","iter":50,"res":19.1},{"betha":"9.0","iter":100,"res":10.4},{"betha":"9.0","iter":150,"res":6.7},{"betha":"9.0","iter":200,"res":5.76},{"betha":"9.0","iter":300,"res":3.65},{"betha":"9.0","iter":400,"res":2.59},{"betha":"9.0","iter":500,"res":1.95},{"betha":"9.0","iter":600,"res":1.55},{"betha":"9.0","iter":700,"res":1.31},{"betha":"9.0","iter":800,"res":1.16},{"betha":"9.0","iter":900,"res":1.04},{"betha":"9.0","iter":1000,"res":0.859},{"betha":"9.0","iter":1100,"res":0.945},{"betha":"9.0","iter":1200,"res":0.71},{"betha":"9.0","iter":1300,"res":0.796},{"betha":"9.0","iter":1400,"res":0.61},
{"betha":"9.0","iter":1450,"res":0.711},{"betha":"9.0","iter":1500,"res":0.565},{"betha":"9.0","iter":1550,"res":0.659},{"betha":"9.0","iter":1600,"res":0.524},{"betha":"9.0","iter":1650,"res":0.616},{"betha":"9.0","iter":1700,"res":0.495},{"betha":"9.0","iter":1750,"res":0.582},{"betha":"9.0","iter":1800,"res":0.467},{"betha":"9.0","iter":1850,"res":0.549},{"betha":"9.0","iter":1900,"res":0.441},{"betha":"9.0","iter":1950,"res":0.519},{"betha":"9.0","iter":2000,"res":0.417},{"betha":"9.0","iter":2050,"res":0.49},{"betha":"9.0","iter":2100,"res":0.394},{"betha":"9.0","iter":2150,"res":0.462},{"betha":"9.0","iter":2200,"res":0.372},{"betha":"9.0","iter":2250,"res":0.437},{"betha":"9.0","iter":2300,"res":0.351},{"betha":"9.0","iter":2350,"res":0.413},{"betha":"9.0","iter":2400,"res":0.332},{"betha":"9.0","iter":2450,"res":0.39},{"betha":"9.0","iter":2500,"res":0.296},{"betha":"9.0","iter":2550,"res":0.39},{"betha":"9.0","iter":2600,"res":0.28},{"betha":"9.0","iter":2650,"res":0.368},{"betha":"9.0","iter":2700,"res":0.264},{"betha":"9.0","iter":2750,"res":0.348},{"betha":"9.0","iter":2800,"res":0.249},{"betha":"9.0","iter":2850,"res":0.329},{"betha":"9.0","iter":2900,"res":0.235},{"betha":"9.0","iter":2950,"res":0.31},{"betha":"9.0","iter":3000,"res":0.222},{"betha":"9.0","iter":3050,"res":0.293},{"betha":"9.0","iter":3100,"res":0.21},{"betha":"9.0","iter":3150,"res":0.277},{"betha":"9.0","iter":3200,"res":0.1984},{"betha":"9.0","iter":3250,"res":0.261},{"betha":"9.0","iter":3300,"res":0.1875},{"betha":"9.0","iter":3350,"res":0.249},{"betha":"9.0","iter":3400,"res":0.1804},{"betha":"9.0","iter":3450,"res":0.238},{"betha":"9.0","iter":3500,"res":0.17},{"betha":"9.0","iter":3550,"res":0.227},{"betha":"9.0","iter":3600,"res":0.1641},{"betha":"9.0","iter":3650,"res":0.2182},{"betha":"9.0","iter":3700,"res":0.158},{"betha":"9.0","iter":3750,"res":0.21},{"betha":"9.0","iter":3800,"res":0.152},{"betha":"9.0","iter":3850,"res":0.2023},{"betha":"9.0","iter":3900,"res":0.1464},{"betha":"9.0","iter":3950,"res":0.195},{"betha":"9.0","iter":4000,"res":0.141},{"betha":"9.0","iter":4050,"res":0.1875},{"betha":"9.0","iter":4100,"res":0.1356},{"betha":"9.0","iter":4150,"res":0.1804},{"betha":"9.0","iter":4200,"res":0.1306},{"betha":"9.0","iter":4250,"res":0.1737},{"betha":"9.0","iter":4300,"res":0.1257},{"betha":"9.0","iter":4350,"res":0.1672},{"betha":"9.0","iter":4400,"res":0.121},{"betha":"9.0","iter":4450,"res":0.1625},{"betha":"9.0","iter":4500,"res":0.1187},{"betha":"9.0","iter":4550,"res":0.1595},{"betha":"9.0","iter":4600,"res":0.1165},{"betha":"9.0","iter":4650,"res":0.1565},{"betha":"9.0","iter":4700,"res":0.1143},{"betha":"9.0","iter":4750,"res":0.1536},{"betha":"9.0","iter":4800,"res":0.1121},{"betha":"9.0","iter":4850,"res":0.1507},{"betha":"9.0","iter":4900,"res":0.11},{"betha":"9.0","iter":4950,"res":0.1477},{"betha":"9.0","iter":5000,"res":0.108},{"betha":"9.0","iter":5050,"res":0.145},{"betha":"9.0","iter":5100,"res":0.106},{"betha":"9.0","iter":5150,"res":0.1423},{"betha":"9.0","iter":5200,"res":0.1039},{"betha":"9.0","iter":5250,"res":0.1397},{"betha":"9.0","iter":5300,"res":0.102},{"betha":"9.0","iter":5350,"res":0.137},{"betha":"9.0","iter":5400,"res":0.1},{"betha":"9.0","iter":5450,"res":0.1343},{"betha":"9.0","iter":5500,"res":0.0982},{"betha":"9.0","iter":5550,"res":0.1318},{"betha":"9.0","iter":5600,"res":0.0964},{"betha":"9.0","iter":5650,"res":0.1294},{"betha":"9.0","iter":5700,"res":0.0946},{"betha":"9.0","iter":5750,"res":0.1269},{"betha":"9.0","iter":5800,"res":0.0927},{"betha":"9.0","iter":5850,"res":0.1245},{"betha":"9.0","iter":5900,"res":0.091},{"betha":"9.0","iter":5950,"res":0.122},{"betha":"9.0","iter":6000,"res":0.0893},{"betha":"9.0","iter":6050,"res":0.12},{"betha":"9.0","iter":6100,"res":0.0876},{"betha":"9.0","iter":6150,"res":0.1176},{"betha":"9.0","iter":6200,"res":0.0859},{"betha":"9.0","iter":6250,"res":0.1154},{"betha":"9.0","iter":6300,"res":0.0843},{"betha":"9.0","iter":6350,"res":0.1132},{"betha":"9.0","iter":6400,"res":0.0827},{"betha":"9.0","iter":6450,"res":0.111},{"betha":"9.0","iter":6500,"res":0.0812},{"betha":"9.0","iter":6550,"res":0.109},{"betha":"9.0","iter":6600,"res":0.0797},{"betha":"9.0","iter":6650,"res":0.107},{"betha":"9.0","iter":6700,"res":0.0781},{"betha":"9.0","iter":6750,"res":0.105},{"betha":"9.0","iter":6800,"res":0.0767},{"betha":"9.0","iter":6850,"res":0.103},{"betha":"9.0","iter":6900,"res":0.0752},{"betha":"9.0","iter":6950,"res":0.101},{"betha":"9.0","iter":7000,"res":0.0739},{"betha":"9.0","iter":7050,"res":0.0991},{"betha":"9.0","iter":7100,"res":0.0725},{"betha":"9.0","iter":7150,"res":0.0982},{"betha":"9.0","iter":7200,"res":0.0725},{"betha":"9.0","iter":7250,"res":0.0973},{"betha":"9.0","iter":7300,"res":0.0711},{"betha":"9.0","iter":7350,"res":0.0955},{"betha":"9.0","iter":7400,"res":0.0697},{"betha":"9.0","iter":7450,"res":0.0937},{"betha":"9.0","iter":7500,"res":0.0684},{"betha":"9.0","iter":7550,"res":0.0918},{"betha":"9.0","iter":7600,"res":0.0671},{"betha":"9.0","iter":7650,"res":0.0901},{"betha":"9.0","iter":7700,"res":0.0659},{"betha":"9.0","iter":7750,"res":0.0884},{"betha":"9.0","iter":7800,"res":0.0646},{"betha":"9.0","iter":7850,"res":0.0868},{"betha":"9.0","iter":7900,"res":0.0634},{"betha":"9.0","iter":7950,"res":0.0851},{"betha":"9.0","iter":8000,"res":0.0622},{"betha":"9.0","iter":8050,"res":0.0835},{"betha":"9.0","iter":8100,"res":0.0611},{"betha":"9.0","iter":8150,"res":0.0819},{"betha":"9.0","iter":8200,"res":0.0599},{"betha":"9.0","iter":8250,"res":0.0804},{"betha":"9.0","iter":8300,"res":0.0588},{"betha":"9.0","iter":8350,"res":0.0789},{"betha":"9.0","iter":8400,"res":0.0576},{"betha":"9.0","iter":8450,"res":0.0781},{"betha":"9.0","iter":8500,"res":0.0576},{"betha":"9.0","iter":8550,"res":0.0775},{"betha":"9.0","iter":8600,"res":0.0565},{"betha":"9.0","iter":8650,"res":0.0759},{"betha":"9.0","iter":8700,"res":0.0555},{"betha":"9.0","iter":8750,"res":0.0746},{"betha":"9.0","iter":8800,"res":0.0544},{"betha":"9.0","iter":8850,"res":0.0739},{"betha":"9.0","iter":8900,"res":0.0544},{"betha":"9.0","iter":8950,"res":0.0732},{"betha":"9.0","iter":9000,"res":0.0534},{"betha":"9.0","iter":9050,"res":0.0718},{"betha":"9.0","iter":9100,"res":0.0524},{"betha":"9.0","iter":9150,"res":0.0704},{"betha":"9.0","iter":9200,"res":0.0514},{"betha":"9.0","iter":9250,"res":0.0697},{"betha":"9.0","iter":9300,"res":0.0514},{"betha":"9.0","iter":9350,"res":0.069},{"betha":"9.0","iter":9400,"res":0.0505},{"betha":"9.0","iter":9450,"res":0.0677},{"betha":"9.0","iter":9500,"res":0.0495},{"betha":"9.0","iter":9550,"res":0.0671},{"betha":"9.0","iter":9600,"res":0.0495},{"betha":"9.0","iter":9650,"res":0.0665},{"betha":"9.0","iter":9700,"res":0.0486},{"betha":"9.0","iter":9750,"res":0.0652},{"betha":"9.0","iter":9800,"res":0.0477},{"betha":"9.0","iter":9850,"res":0.0646},{"betha":"9.0","iter":9900,"res":0.0477},{"betha":"9.0","iter":9950,"res":0.064},{"betha":"9.0","iter":10000,"res":0.0544},
{"betha":"11.0","iter":0,"res":40.9},{"betha":"11.0","iter":25,"res":28},{"betha":"11.0","iter":50,"res":19.1},{"betha":"11.0","iter":100,"res":10.4},{"betha":"11.0","iter":150,"res":6.7},{"betha":"11.0","iter":200,"res":5.76},{"betha":"11.0","iter":300,"res":3.94},{"betha":"11.0","iter":400,"res":2.9},
{"betha":"11.0","iter":500,"res":3.01},{"betha":"11.0","iter":550,"res":1.77},{"betha":"11.0","iter":600,"res":2.96},{"betha":"11.0","iter":650,"res":1.43},{"betha":"11.0","iter":700,"res":2.59},{"betha":"11.0","iter":750,"res":1.22},{"betha":"11.0","iter":800,"res":2.27},{"betha":"11.0","iter":850,"res":1.09},{"betha":"11.0","iter":900,"res":1.95},{"betha":"11.0","iter":950,"res":0.963},{"betha":"11.0","iter":1000,"res":1.64},{"betha":"11.0","iter":1050,"res":0.851},{"betha":"11.0","iter":1100,"res":1.49},{"betha":"11.0","iter":1150,"res":0.774},{"betha":"11.0","iter":1200,"res":1.35},{"betha":"11.0","iter":1250,"res":0.691},{"betha":"11.0","iter":1300,"res":1.28},{"betha":"11.0","iter":1350,"res":0.628},{"betha":"11.0","iter":1400,"res":1.12},{"betha":"11.0","iter":1450,"res":0.599},{"betha":"11.0","iter":1500,"res":0.927},{"betha":"11.0","iter":1550,"res":0.554},{"betha":"11.0","iter":1600,"res":0.827},{"betha":"11.0","iter":1650,"res":0.5},{"betha":"11.0","iter":1700,"res":0.752},{"betha":"11.0","iter":1750,"res":0.462},{"betha":"11.0","iter":1800,"res":0.659},{"betha":"11.0","iter":1850,"res":0.433},{"betha":"11.0","iter":1900,"res":0.61},{"betha":"11.0","iter":1950,"res":0.409},{"betha":"11.0","iter":2000,"res":0.544},{"betha":"11.0","iter":2050,"res":0.39},{"betha":"11.0","iter":2100,"res":0.514},{"betha":"11.0","iter":2150,"res":0.368},{"betha":"11.0","iter":2200,"res":0.486},{"betha":"11.0","iter":2250,"res":0.351},{"betha":"11.0","iter":2300,"res":0.467},{"betha":"11.0","iter":2350,"res":0.325},{"betha":"11.0","iter":2400,"res":0.486},{"betha":"11.0","iter":2450,"res":0.299},{"betha":"11.0","iter":2500,"res":0.495},{"betha":"11.0","iter":2550,"res":0.282},{"betha":"11.0","iter":2600,"res":0.45},{"betha":"11.0","iter":2650,"res":0.269},{"betha":"11.0","iter":2700,"res":0.386},{"betha":"11.0","iter":2750,"res":0.257},{"betha":"11.0","iter":2800,"res":0.365},{"betha":"11.0","iter":2850,"res":0.238},{"betha":"11.0","iter":2900,"res":0.358},{"betha":"11.0","iter":2950,"res":0.212},{"betha":"11.0","iter":3000,"res":0.351},{"betha":"11.0","iter":3050,"res":0.191},{"betha":"11.0","iter":3100,"res":0.338},{"betha":"11.0","iter":3150,"res":0.177},{"betha":"11.0","iter":3200,"res":0.325},{"betha":"11.0","iter":3250,"res":0.166},{"betha":"11.0","iter":3300,"res":0.307},{"betha":"11.0","iter":3350,"res":0.158},{"betha":"11.0","iter":3400,"res":0.296},{"betha":"11.0","iter":3450,"res":0.151},{"betha":"11.0","iter":3500,"res":0.28},{"betha":"11.0","iter":3550,"res":0.1437},{"betha":"11.0","iter":3600,"res":0.269},{"betha":"11.0","iter":3650,"res":0.1383},{"betha":"11.0","iter":3700,"res":0.259},{"betha":"11.0","iter":3750,"res":0.133},{"betha":"11.0","iter":3800,"res":0.249},{"betha":"11.0","iter":3850,"res":0.1294},{"betha":"11.0","iter":3900,"res":0.235},{"betha":"11.0","iter":3950,"res":0.1257},{"betha":"11.0","iter":4000,"res":0.227},{"betha":"11.0","iter":4050,"res":0.12},{"betha":"11.0","iter":4100,"res":0.222},{"betha":"11.0","iter":4150,"res":0.1132},{"betha":"11.0","iter":4200,"res":0.218},{"betha":"11.0","iter":4250,"res":0.108},{"betha":"11.0","iter":4300,"res":0.21},{"betha":"11.0","iter":4350,"res":0.106},{"betha":"11.0","iter":4400,"res":0.202},{"betha":"11.0","iter":4450,"res":0.106},{"betha":"11.0","iter":4500,"res":0.195},{"betha":"11.0","iter":4550,"res":0.105},{"betha":"11.0","iter":4600,"res":0.191},{"betha":"11.0","iter":4650,"res":0.1039},{"betha":"11.0","iter":4700,"res":0.191},{"betha":"11.0","iter":4750,"res":0.103},{"betha":"11.0","iter":4800,"res":0.1875},{"betha":"11.0","iter":4850,"res":0.101},{"betha":"11.0","iter":4900,"res":0.184},{"betha":"11.0","iter":4950,"res":0.0991},{"betha":"11.0","iter":5000,"res":0.1804},{"betha":"11.0","iter":5050,"res":0.0973},{"betha":"11.0","iter":5100,"res":0.17},{"betha":"11.0","iter":5150,"res":0.0946},{"betha":"11.0","iter":5200,"res":0.1641},{"betha":"11.0","iter":5250,"res":0.0918},{"betha":"11.0","iter":5300,"res":0.161},{"betha":"11.0","iter":5350,"res":0.0901},{"betha":"11.0","iter":5400,"res":0.158},{"betha":"11.0","iter":5450,"res":0.0884},{"betha":"11.0","iter":5500,"res":0.155},{"betha":"11.0","iter":5550,"res":0.0876},{"betha":"11.0","iter":5600,"res":0.1492},{"betha":"11.0","iter":5650,"res":0.0876},{"betha":"11.0","iter":5700,"res":0.1437},{"betha":"11.0","iter":5750,"res":0.0876},{"betha":"11.0","iter":5800,"res":0.1383},{"betha":"11.0","iter":5850,"res":0.0868},{"betha":"11.0","iter":5900,"res":0.1356},{"betha":"11.0","iter":5950,"res":0.0851},{"betha":"11.0","iter":6000,"res":0.133},{"betha":"11.0","iter":6050,"res":0.0843},{"betha":"11.0","iter":6100,"res":0.133},{"betha":"11.0","iter":6150,"res":0.0827},{"betha":"11.0","iter":6200,"res":0.1383},{"betha":"11.0","iter":6250,"res":0.0804},{"betha":"11.0","iter":6300,"res":0.141},{"betha":"11.0","iter":6350,"res":0.0781},{"betha":"11.0","iter":6400,"res":0.1356},{"betha":"11.0","iter":6450,"res":0.0759},{"betha":"11.0","iter":6500,"res":0.133},{"betha":"11.0","iter":6550,"res":0.0752},{"betha":"11.0","iter":6600,"res":0.128},{"betha":"11.0","iter":6650,"res":0.0739},{"betha":"11.0","iter":6700,"res":0.1233},{"betha":"11.0","iter":6750,"res":0.0711},{"betha":"11.0","iter":6800,"res":0.1187},{"betha":"11.0","iter":6850,"res":0.0704},{"betha":"11.0","iter":6900,"res":0.1257},{"betha":"11.0","iter":6950,"res":0.0711},{"betha":"11.0","iter":7000,"res":0.1257},{"betha":"11.0","iter":7050,"res":0.0704},{"betha":"11.0","iter":7100,"res":0.1233},{"betha":"11.0","iter":7150,"res":0.0697},{"betha":"11.0","iter":7200,"res":0.1187},{"betha":"11.0","iter":7250,"res":0.069},{"betha":"11.0","iter":7300,"res":0.1121},{"betha":"11.0","iter":7350,"res":0.0665},{"betha":"11.0","iter":7400,"res":0.106},{"betha":"11.0","iter":7450,"res":0.064},{"betha":"11.0","iter":7500,"res":0.1039},{"betha":"11.0","iter":7550,"res":0.0634},{"betha":"11.0","iter":7600,"res":0.1039},{"betha":"11.0","iter":7650,"res":0.064},{"betha":"11.0","iter":7700,"res":0.106},{"betha":"11.0","iter":7750,"res":0.064},{"betha":"11.0","iter":7800,"res":0.1039},{"betha":"11.0","iter":7850,"res":0.0622},{"betha":"11.0","iter":7900,"res":0.1},{"betha":"11.0","iter":7950,"res":0.0599},{"betha":"11.0","iter":8000,"res":0.0964},{"betha":"11.0","iter":8050,"res":0.0588},{"betha":"11.0","iter":8100,"res":0.0927},{"betha":"11.0","iter":8150,"res":0.0582},{"betha":"11.0","iter":8200,"res":0.0946},{"betha":"11.0","iter":8250,"res":0.0582},{"betha":"11.0","iter":8300,"res":0.0964},{"betha":"11.0","iter":8350,"res":0.0593},{"betha":"11.0","iter":8400,"res":0.0982},{"betha":"11.0","iter":8450,"res":0.0599},{"betha":"11.0","iter":8500,"res":0.0982},{"betha":"11.0","iter":8550,"res":0.0593},{"betha":"11.0","iter":8600,"res":0.0964},{"betha":"11.0","iter":8650,"res":0.0582},{"betha":"11.0","iter":8700,"res":0.0946},{"betha":"11.0","iter":8750,"res":0.057},{"betha":"11.0","iter":8800,"res":0.0927},{"betha":"11.0","iter":8850,"res":0.0555},{"betha":"11.0","iter":8900,"res":0.0893},{"betha":"11.0","iter":8950,"res":0.0529},{"betha":"11.0","iter":9000,"res":0.0876},{"betha":"11.0","iter":9050,"res":0.0509},{"betha":"11.0","iter":9100,"res":0.0893},{"betha":"11.0","iter":9150,"res":0.05},{"betha":"11.0","iter":9200,"res":0.091},{"betha":"11.0","iter":9250,"res":0.0486},{"betha":"11.0","iter":9300,"res":0.091},{"betha":"11.0","iter":9350,"res":0.0464},{"betha":"11.0","iter":9400,"res":0.0893},{"betha":"11.0","iter":9450,"res":0.0442},{"betha":"11.0","iter":9500,"res":0.0859},{"betha":"11.0","iter":9550,"res":0.0425},{"betha":"11.0","iter":9600,"res":0.0827},{"betha":"11.0","iter":9650,"res":0.0409},{"betha":"11.0","iter":9700,"res":0.0797},{"betha":"11.0","iter":9750,"res":0.0394},{"betha":"11.0","iter":9800,"res":0.0767},{"betha":"11.0","iter":9850,"res":0.0379},{"betha":"11.0","iter":9900,"res":0.0739},{"betha":"11.0","iter":9950,"res":0.0372},{"betha":"11.0","iter":10000,"res":0.0524}
]},
"mark": {"type": "line", "strokeWidth": 2, "clip": true},
"encoding": {
  "x": {"field": "iter", "type": "quantitative", "title": "ITERACOES",
    "scale": {"domain": [0, 10000], "nice": false},
    "axis": {"values": [0,500,1000,1500,2000,2500,3000,3500,4000,4500,5000,5500,6000,6500,7000,7500,8000,8500,9000,9500,10000],
      "labelExpr": "datum.value % 2000 == 0 ? '' + datum.value : ''",
      "grid": false, "labelOverlap": false, "labelFlush": false,
      "domainColor": "black", "domainWidth": 3, "tickColor": "black",
      "tickSize": {"condition": {"test": "datum.value % 2000 == 0", "value": -15}, "value": -8},
      "tickWidth": {"condition": {"test": "datum.value % 2000 == 0", "value": 3}, "value": 2},
      "labelFontSize": 22, "labelColor": "black", "labelPadding": 19,
      "titleFontSize": 29, "titleFontWeight": "bold", "titleColor": "black", "titlePadding": -6}},
  "y": {"field": "res", "type": "quantitative", "title": "RESIDUE",
    "scale": {"type": "log", "domain": [0.0071, 1549], "nice": false},
    "axis": {"values": [0.008,0.009,0.01,0.02,0.03,0.04,0.05,0.06,0.07,0.08,0.09,0.1,0.2,0.3,0.4,0.5,0.6,0.7,0.8,0.9,1,2,3,4,5,6,7,8,9,10,20,30,40,50,60,70,80,90,100,200,300,400,500,600,700,800,900,1000],
      "labelExpr": "abs(log(datum.value)/LN10 - round(log(datum.value)/LN10)) < 0.01 ? '10' : ''",
      "grid": false, "labelOverlap": false, "labelFlush": false,
      "domainColor": "black", "domainWidth": 3, "tickColor": "black",
      "tickSize": {"condition": {"test": "abs(log(datum.value)/LN10 - round(log(datum.value)/LN10)) < 0.01", "value": -17}, "value": -8},
      "tickWidth": {"condition": {"test": "abs(log(datum.value)/LN10 - round(log(datum.value)/LN10)) < 0.01", "value": 3}, "value": 2},
      "labelFontSize": 24, "labelColor": "black", "labelPadding": 36,
      "titleFontSize": 33, "titleFontWeight": "bold", "titleColor": "black", "titlePadding": 4}},
  "color": {"field": "betha", "type": "nominal",
    "scale": {"domain": ["1.1","3.0","5.0","7.0","9.0","11.0"], "range": ["#e9573f","#2a9d55","#2150c0","#26c6f2","#f2dd1f","#e8409b"]},
    "legend": {"orient": "none", "legendX": 572, "legendY": 90, "title": null, "padding": 0,
      "symbolType": "stroke", "symbolSize": 6084, "symbolStrokeWidth": 2, "clipHeight": 20, "rowPadding": 0,
      "labelFontSize": 16, "labelFontWeight": "bold", "labelColor": "black", "labelOffset": 12,
      "labelExpr": "'Betha = ' + datum.label"}}
}
},
{
"data": {"values": [{"val":1000,"exp":"3"},{"val":100,"exp":"2"},{"val":10,"exp":"1"},{"val":1,"exp":"0"},{"val":0.1,"exp":"-1"},{"val":0.01,"exp":"-2"}]},
"mark": {"type": "text", "align": "left", "baseline": "alphabetic", "dx": -18, "dy": -3, "fontSize": 15, "color": "black"},
"encoding": {
  "x": {"datum": 0, "type": "quantitative", "title": "ITERACOES"},
  "y": {"field": "val", "type": "quantitative", "title": "RESIDUE"},
  "text": {"field": "exp"}
}
}
]
}
